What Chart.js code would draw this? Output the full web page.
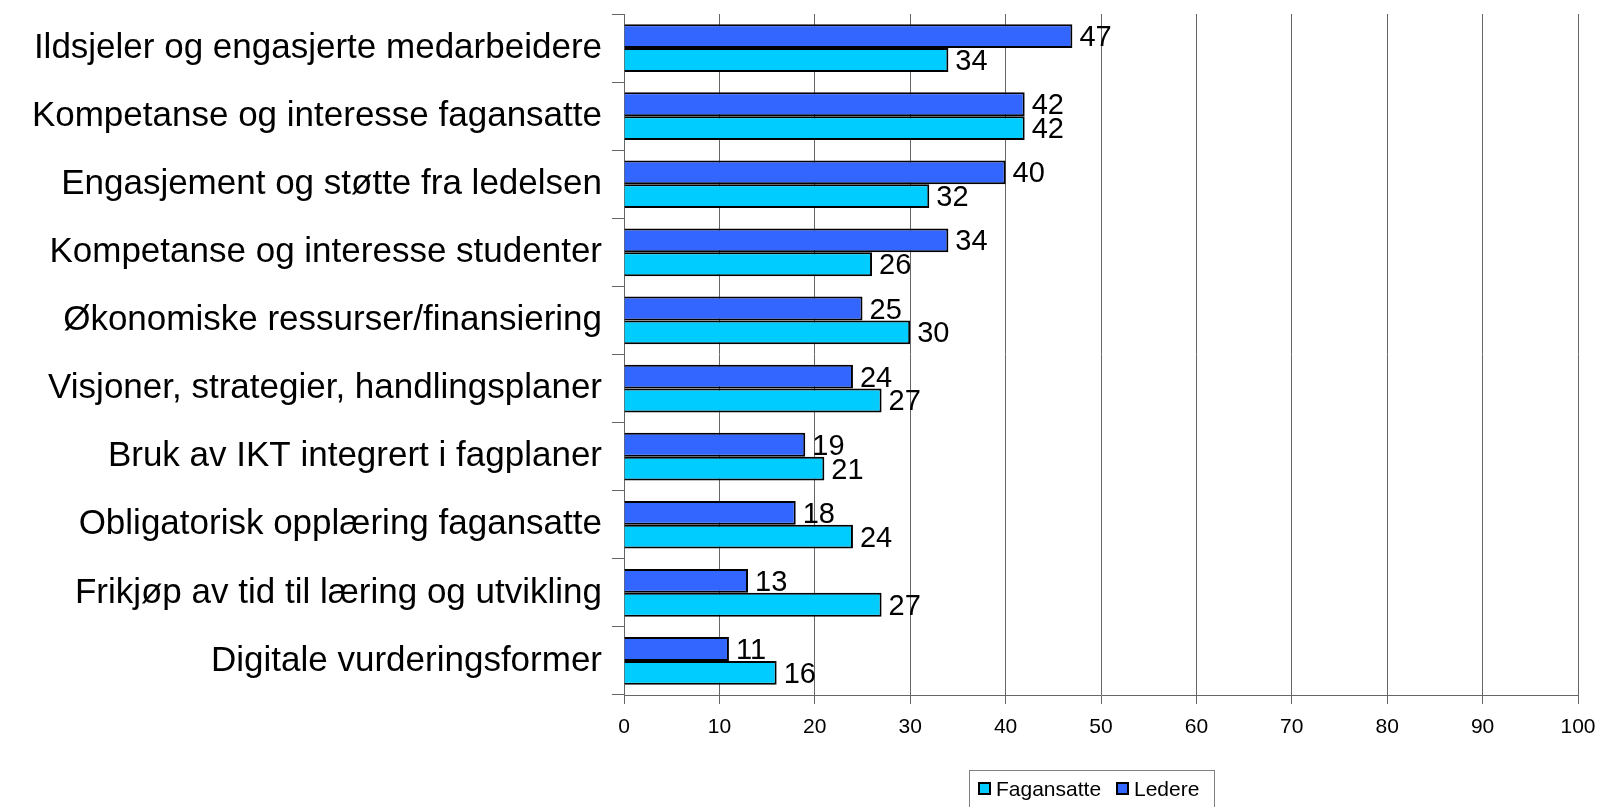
<!DOCTYPE html>
<html lang="no">
<head>
  <meta charset="UTF-8">
  <title>Ildsjeler og engasjerte medarbeidere</title>
  <script src="https://cdn.jsdelivr.net/npm/chart.js@4"></script>
  <style>
    * { box-sizing: border-box; margin: 0; padding: 0; }
    html, body { width: 1599px; height: 807px; background: #fff; overflow: hidden; }
    #wrap { position: relative; width: 1599px; height: 807px; }
  </style>
</head>
<body>
  <div id="wrap"><canvas id="chart"></canvas></div>
  <script>
    // ---------- Data ----------
    const categories = [
      'Ildsjeler og engasjerte medarbeidere',
      'Kompetanse og interesse fagansatte',
      'Engasjement og støtte fra ledelsen',
      'Kompetanse og interesse studenter',
      'Økonomiske ressurser/finansiering',
      'Visjoner, strategier, handlingsplaner',
      'Bruk av IKT integrert i fagplaner',
      'Obligatorisk opplæring fagansatte',
      'Frikjøp av tid til læring og utvikling',
      'Digitale vurderingsformer',
    ];
    const ledere      = [47, 42, 40, 34, 25, 24, 19, 18, 13, 11];
    const fagansatte  = [34, 42, 32, 26, 30, 27, 21, 24, 27, 16];
    const xTicks      = [0, 10, 20, 30, 40, 50, 60, 70, 80, 90, 100];

    const FONT = '"Liberation Sans", Arial, sans-serif';
    const COLORS = { ledere: '#3366FF', fagansatte: '#00CCFF' };

    // value labels at the end of each bar
    const valueLabels = {
      id: 'valueLabels',
      afterDatasetsDraw(chart) {
        const ctx = chart.ctx;
        ctx.save();
        ctx.font = `29px ${FONT}`;
        ctx.fillStyle = '#000';
        ctx.textAlign = 'left';
        ctx.textBaseline = 'middle';
        chart.data.datasets.forEach((ds, di) => {
          chart.getDatasetMeta(di).data.forEach((bar, i) => {
            ctx.fillText(String(ds.data[i]), bar.x + 7, bar.y + 2);
          });
        });
        ctx.restore();
      },
    };

    // boxed legend under the axis (Fagansatte first, like the original)
    const boxLegend = {
      id: 'boxLegend',
      afterDraw(chart) {
        const ctx = chart.ctx;
        const x0 = 969, y0 = 770, w = 245, h = 40;
        ctx.save();
        ctx.strokeStyle = '#808080';
        ctx.lineWidth = 1;
        ctx.strokeRect(x0 + 0.5, y0 + 0.5, w, h);
        ctx.font = `21px ${FONT}`;
        ctx.textBaseline = 'middle';
        ctx.fillStyle = '#000';
        const items = [
          { label: 'Fagansatte', color: COLORS.fagansatte, x: x0 + 10 },
          { label: 'Ledere', color: COLORS.ledere, x: x0 + 148 },
        ];
        const cy = y0 + 19;
        items.forEach(it => {
          ctx.fillStyle = it.color;
          ctx.fillRect(it.x, cy - 6, 11, 11);
          ctx.strokeStyle = '#000';
          ctx.lineWidth = 2;
          ctx.strokeRect(it.x, cy - 6, 11, 11);
          ctx.fillStyle = '#000';
          ctx.fillText(it.label, it.x + 17, cy + 1);
        });
        ctx.restore();
      },
    };

    new Chart(document.getElementById('chart'), {
      type: 'bar',
      data: {
        labels: categories,
        datasets: [
          { label: 'Ledere', data: ledere, backgroundColor: COLORS.ledere, borderColor: '#000', borderWidth: 2 },
          { label: 'Fagansatte', data: fagansatte, backgroundColor: COLORS.fagansatte, borderColor: '#000', borderWidth: 2 },
        ],
      },
      options: {
        indexAxis: 'y',
        responsive: true,
        maintainAspectRatio: false,
        animation: false,
        categoryPercentage: 0.7,
        barPercentage: 1.0,
        layout: { padding: { top: 14, right: 21, left: 0, bottom: 0 } },
        plugins: { legend: { display: false }, tooltip: { enabled: false } },
        scales: {
          x: {
            min: 0, max: 100,
            afterBuildTicks(scale) { scale.ticks = xTicks.map(v => ({ value: v })); },
            afterFit(scale) {
              scale.height = 112;
              scale.paddingLeft = 0; scale.paddingRight = 0;
            },
            ticks: { color: '#000', font: { family: FONT, size: 21 }, padding: 11, maxRotation: 0 },
            grid: { color: '#666666', lineWidth: 1, tickLength: 9, drawTicks: true },
            border: { color: '#666666', width: 1 },
          },
          y: {
            afterFit(scale) {
              scale.width = 624;
              scale.paddingTop = 0; scale.paddingBottom = 0;
            },
            ticks: { color: '#000', font: { family: FONT, size: 35 }, padding: 10, autoSkip: false },
            grid: { offset: true, drawOnChartArea: false, color: '#666666', tickLength: 12 },
            border: { color: '#666666', width: 1 },
          },
        },
      },
      plugins: [valueLabels, boxLegend],
    });
  </script>
</body>
</html>
